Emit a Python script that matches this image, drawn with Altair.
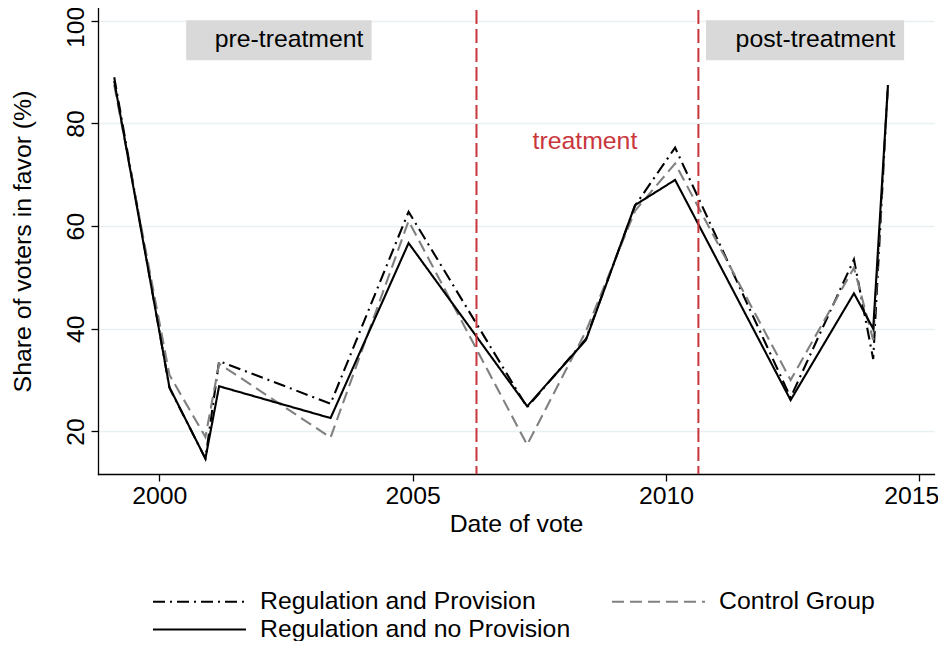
import altair as alt
import pandas as pd

# ---- data ----
dates = [1999.11, 2000.20, 2000.91, 2001.18, 2003.38, 2004.92, 2007.26,
         2008.42, 2009.39, 2010.18, 2012.46, 2013.71, 2014.09, 2014.38]
reg_provision = [89.0, 28.5, 14.7, 33.7, 25.4, 62.8, 24.7,
                 38.0, 64.0, 75.3, 26.6, 53.5, 34.1, 87.5]
reg_no_provision = [88.3, 28.6, 14.7, 28.8, 22.6, 56.7, 24.9,
                    37.8, 64.1, 69.0, 26.1, 46.9, 40.0, 87.3]
control_group = [87.5, 31.0, 18.9, 33.2, 18.8, 61.0, 17.4,
                 39.5, 63.0, 72.2, 30.0, 51.9, 37.8, 86.8]

series_names = ["Regulation and Provision", "Control Group", "Regulation and no Provision"]
treatment_dates = [2006.26, 2010.64]
x_ticks = [2000, 2005, 2010, 2015]
y_ticks = [20, 40, 60, 80, 100]

period_labels = ["pre-treatment", "post-treatment"]
box_x_start = [2000.53, 2010.79]
box_x_end = [2004.19, 2014.70]
box_y_low = [92.3, 92.3]
box_y_high = [100.1, 100.1]
label_x = [2004.03, 2014.53]
label_y = [96.2, 96.2]

treat_text = ["treatment"]
treat_text_x = [2008.40]
treat_text_y = [76.4]

# ---- tables ----
rows = []
for name, vals in zip(series_names, [reg_provision, control_group, reg_no_provision]):
    for d, v in zip(dates, vals):
        rows.append({"date": d, "value": v, "group": name})
lines_df = pd.DataFrame(rows)

boxes_df = pd.DataFrame({"x": box_x_start, "x2": box_x_end, "y": box_y_low, "y2": box_y_high,
                         "lx": label_x, "ly": label_y, "label": period_labels})
vline_df = pd.DataFrame({"date": treatment_dates})
treat_df = pd.DataFrame({"x": treat_text_x, "y": treat_text_y, "label": treat_text})

FONT = "Liberation Sans"
FS = 24.8
X_DOM = [1998.79, 2015.29]
Y_DOM = [11.7, 102.5]

xscale = alt.Scale(domain=X_DOM, nice=False, zero=False)
yscale = alt.Scale(domain=Y_DOM, nice=False, zero=False)

legend_cfg = dict(title=None, orient="none", legendX=89, legendY=581,
                  columns=2, columnPadding=37, rowPadding=2,
                  symbolType="M-4.043,0H4.043", symbolSize=529, symbolStrokeWidth=2,
                  labelFontSize=FS, labelFont=FONT, labelColor="black",
                  labelOffset=48, labelLimit=500, direction="horizontal")

lines = alt.Chart(lines_df).mark_line(strokeWidth=2.1, clip=True).encode(
    x=alt.X("date:Q", scale=xscale,
            axis=alt.Axis(values=x_ticks, format="d", grid=False, title="Date of vote",
                          tickSize=7, tickColor="black", tickWidth=1.3,
                          domainColor="black", domainWidth=1.3,
                          labelFontSize=FS, titleFontSize=FS, labelFont=FONT, titleFont=FONT,
                          labelColor="black", titleColor="black", titleFontWeight="normal",
                          labelPadding=2, titlePadding=4, labelFlush=False,
                          labelOffset={"condition": {"test": "datum.value == 2015", "value": -8},
                                       "value": 0})),
    y=alt.Y("value:Q", scale=yscale,
            axis=alt.Axis(values=y_ticks, grid=True, gridColor="#e8f0f2", gridWidth=1.5,
                          title="Share of voters in favor (%)",
                          tickSize=7, tickColor="black", tickWidth=1.3,
                          domainColor="black", domainWidth=1.3,
                          labelAngle=270, labelAlign="center", labelBaseline="bottom",
                          labelFontSize=FS, titleFontSize=FS, labelFont=FONT, titleFont=FONT,
                          labelColor="black", titleColor="black", titleFontWeight="normal",
                          labelPadding=3, titlePadding=28, labelFlush=False,
                          labelOffset={"condition": {"test": "datum.value == 100", "value": 6},
                                       "value": 0})),
    color=alt.Color("group:N",
                    scale=alt.Scale(domain=series_names, range=["#000000", "#808080", "#000000"]),
                    legend=alt.Legend(**legend_cfg)),
    strokeDash=alt.StrokeDash("group:N",
                              scale=alt.Scale(domain=series_names,
                                              range=[[12, 5, 2, 5], [12, 6], [1, 0]]),
                              legend=alt.Legend(**legend_cfg)),
    detail="group:N",
)

rects = alt.Chart(boxes_df).mark_rect(color="#d9d9d9").encode(
    x=alt.X("x:Q", scale=xscale), x2="x2:Q",
    y=alt.Y("y:Q", scale=yscale), y2="y2:Q",
)
rect_text = alt.Chart(boxes_df).mark_text(align="right", baseline="middle", fontSize=FS,
                                          font=FONT, color="black").encode(
    x=alt.X("lx:Q", scale=xscale), y=alt.Y("ly:Q", scale=yscale), text="label:N")

vlines = alt.Chart(vline_df).mark_rule(color="#c9363c", strokeWidth=2, strokeDash=[14, 5]).encode(
    x=alt.X("date:Q", scale=xscale),
    y=alt.value(2), y2=alt.value(466),
)
treat_label = alt.Chart(treat_df).mark_text(align="center", baseline="middle", fontSize=FS,
                                            font=FONT, color="#c9363c").encode(
    x=alt.X("x:Q", scale=xscale), y=alt.Y("y:Q", scale=yscale), text="label:N")

chart = alt.layer(rects, rect_text, treat_label, lines, vlines).properties(
    width=836, height=466,
    autosize=alt.AutoSizeParams(type="none"),
    padding={"left": 90, "top": 0, "right": 4, "bottom": 167},
    background="white",
).configure_view(stroke=None).configure_axis(domainCap="square")

chart.save("out.html", embed_options={"renderer": "svg", "actions": False})
